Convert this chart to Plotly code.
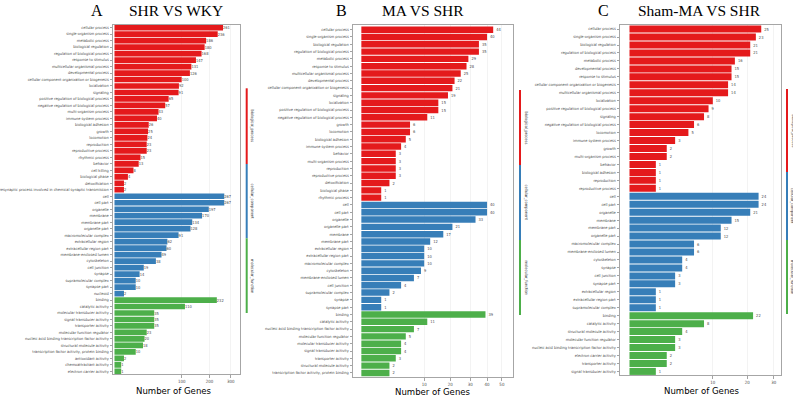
import numpy as np
import plotly.graph_objects as go

W, H = 793, 396

# ---------------- Panel A: SHR VS WKY ----------------
a_bp_terms = ["cellular process", "single-organism process", "metabolic process", "biological regulation",
              "regulation of biological process", "response to stimulus", "multicellular organismal process",
              "developmental process", "cellular component organization or biogenesis", "localization",
              "signaling", "positive regulation of biological process", "negative regulation of biological process",
              "multi-organism process", "immune system process", "biological adhesion", "growth", "locomotion",
              "reproduction", "reproductive process", "rhythmic process", "behavior", "cell killing",
              "biological phase", "detoxification",
              "presynaptic process involved in chemical synaptic transmission"]
a_bp_counts = [261, 236, 186, 180, 168, 147, 131, 126, 100, 92, 91, 65, 57, 43, 40, 26, 25, 24, 23, 23, 15, 13, 8, 4, 2, 2]
a_cc_terms = ["cell", "cell part", "organelle", "membrane", "membrane part", "organelle part",
              "macromolecular complex", "extracellular region", "extracellular region part",
              "membrane-enclosed lumen", "cytoskeleton", "cell junction", "synapse", "supramolecular complex",
              "synapse part", "nucleoid"]
a_cc_counts = [267, 267, 197, 170, 134, 128, 91, 62, 60, 49, 38, 19, 14, 10, 10, 2]
a_mf_terms = ["binding", "catalytic activity", "molecular transducer activity", "signal transducer activity",
              "transporter activity", "molecular function regulator",
              "nucleic acid binding transcription factor activity", "structural molecule activity",
              "transcription factor activity, protein binding", "antioxidant activity",
              "chemoattractant activity", "electron carrier activity"]
a_mf_counts = [232, 110, 35, 35, 35, 23, 20, 18, 10, 2, 1, 1]
a_ticks = [100, 200, 300]

# ---------------- Panel B: MA VS SHR ----------------
b_bp_terms = ["cellular process", "single-organism process", "biological regulation",
              "regulation of biological process", "metabolic process", "response to stimulus",
              "multicellular organismal process", "developmental process",
              "cellular component organization or biogenesis", "signaling", "localization",
              "positive regulation of biological process", "negative regulation of biological process",
              "growth", "locomotion", "biological adhesion", "immune system process", "behavior",
              "multi-organism process", "reproduction", "reproductive process", "detoxification",
              "biological phase", "rhythmic process"]
b_bp_counts = [44, 40, 35, 35, 29, 28, 25, 22, 21, 19, 15, 15, 11, 6, 6, 5, 4, 3, 3, 3, 3, 2, 1, 1]
b_cc_terms = ["cell", "cell part", "organelle", "organelle part", "membrane", "membrane part",
              "extracellular region", "extracellular region part", "macromolecular complex", "cytoskeleton",
              "membrane-enclosed lumen", "cell junction", "supramolecular complex", "synapse", "synapse part"]
b_cc_counts = [40, 40, 33, 21, 17, 12, 10, 10, 10, 9, 7, 4, 2, 1, 1]
b_mf_terms = ["binding", "catalytic activity", "nucleic acid binding transcription factor activity",
              "molecular function regulator", "molecular transducer activity", "signal transducer activity",
              "transporter activity", "structural molecule activity",
              "transcription factor activity, protein binding"]
b_mf_counts = [39, 11, 7, 5, 4, 4, 3, 2, 2]
b_ticks = [10, 20, 30, 40, 50]

# ---------------- Panel C: Sham-MA VS SHR ----------------
c_bp_terms = ["cellular process", "single-organism process", "biological regulation",
              "regulation of biological process", "metabolic process", "developmental process",
              "response to stimulus", "cellular component organization or biogenesis",
              "multicellular organismal process", "localization", "positive regulation of biological process",
              "signaling", "negative regulation of biological process", "locomotion", "immune system process",
              "growth", "multi-organism process", "behavior", "biological adhesion", "reproduction",
              "reproductive process"]
c_bp_counts = [25, 23, 21, 21, 16, 15, 15, 14, 14, 10, 9, 8, 6, 5, 3, 2, 2, 1, 1, 1, 1]
c_cc_terms = ["cell", "cell part", "organelle", "membrane", "membrane part", "organelle part",
              "macromolecular complex", "membrane-enclosed lumen", "cytoskeleton", "synapse", "cell junction",
              "synapse part", "extracellular region", "extracellular region part", "supramolecular complex"]
c_cc_counts = [24, 24, 21, 15, 12, 12, 6, 6, 4, 4, 3, 3, 1, 1, 1]
c_mf_terms = ["binding", "catalytic activity", "structural molecule activity", "molecular function regulator",
              "nucleic acid binding transcription factor activity", "electron carrier activity",
              "transporter activity", "signal transducer activity"]
c_mf_counts = [22, 8, 4, 3, 3, 2, 2, 1]
c_ticks = [10, 20, 30]

ontology_names = ["biological_process", "cellular_component", "molecular_function"]
ontology_colors = ["#E41A1C", "#377EB8", "#4DAF4A"]

panel_letters = ["A", "B", "C"]
panel_titles = ["SHR VS WKY", "MA VS SHR", "Sham-MA VS SHR"]
axis_title = "Number of Genes"

# ---------------- layout geometry (pixels) ----------------
panels = [
    dict(groups=[(a_bp_terms, a_bp_counts), (a_cc_terms, a_cc_counts), (a_mf_terms, a_mf_counts)],
         ticks=a_ticks, x0=113, x1=240, y0=24.7, y1=374.3, xr=(-0.22, 18.68), pad=(0.45, 0.45),
         letter_x=96.7, title_x=176, strip_x=246.7, strip_y=[88.3, 164, 238.3, 313], atitle=(174, 390)),
    dict(groups=[(b_bp_terms, b_bp_counts), (b_cc_terms, b_cc_counts), (b_mf_terms, b_mf_counts)],
         ticks=b_ticks, x0=353, x1=513, y0=25.3, y1=377.3, xr=(-0.42, 7.63), pad=(0.6, 0.6),
         letter_x=341.7, title_x=423, strip_x=520, strip_y=[90, 165, 240, 315], atitle=(433, 391.5)),
    dict(groups=[(c_bp_terms, c_bp_counts), (c_cc_terms, c_cc_counts), (c_mf_terms, c_mf_counts)],
         ticks=c_ticks, x0=620, x1=781, y0=24.7, y1=375, xr=(-0.36, 5.75), pad=(0.55, 0.45),
         letter_x=603, title_x=699, strip_x=787, strip_y=[89, 172, 240, 314], atitle=(702, 390.5)),
]

SMALL_FONT = "Liberation Sans Narrow, Arial Narrow, DejaVu Sans Condensed, Liberation Sans, sans-serif"
GRAY = "#4D4D4D"

fig = go.Figure()
layout = dict(width=W, height=H, margin=dict(l=0, r=0, t=0, b=0, autoexpand=False),
              template="none",
              paper_bgcolor="white", plot_bgcolor="white", showlegend=False,
              bargap=0.12)
annotations = []
shapes = []

def px(x):
    return x / W

def py(y):
    return 1 - y / H

for i, p in enumerate(panels):
    sfx = "" if i == 0 else str(i + 1)
    xa, ya = "x" + sfx, "y" + sfx
    all_terms = []
    for gi, (terms, counts) in enumerate(p["groups"]):
        all_terms += terms
        fig.add_trace(go.Bar(
            x=np.sqrt(np.array(counts, dtype=float)), y=terms, orientation="h",
            marker=dict(color=ontology_colors[gi], line=dict(width=0)),
            text=[str(c) for c in counts], textposition="outside", constraintext="none",
            textfont=dict(family=SMALL_FONT, size=4.0, color=GRAY), cliponaxis=False,
            xaxis=xa, yaxis=ya, hoverinfo="skip"))
    n = len(all_terms)
    layout["xaxis" + sfx] = dict(
        domain=[px(p["x0"]), px(p["x1"])], anchor=ya, range=list(p["xr"]), automargin=False,
        tickvals=list(np.sqrt(p["ticks"])), ticktext=[str(t) for t in p["ticks"]],
        ticks="outside", ticklen=2.5, tickwidth=0.6, tickcolor="#666",
        tickfont=dict(family=SMALL_FONT, size=4.4, color=GRAY),
        showgrid=True, gridcolor="#EBEBEB", gridwidth=0.6, zeroline=False,
        showline=True, mirror=True, linecolor="#A6A6A6", linewidth=1)
    layout["yaxis" + sfx] = dict(
        domain=[py(p["y1"]), py(p["y0"])], anchor=xa, type="category", automargin=False,
        categoryorder="array", categoryarray=all_terms,
        range=[n - 1 + p["pad"][1], -p["pad"][0]],
        ticks="outside", ticklen=2.5, tickwidth=0.6, tickcolor="#666",
        tickfont=dict(family=SMALL_FONT, size=3.9, color=GRAY),
        showgrid=False, zeroline=False,
        showline=True, mirror=True, linecolor="#A6A6A6", linewidth=1)

    # titles
    annotations.append(dict(x=px(p["letter_x"]), y=py(10.5), xref="paper", yref="paper",
                            text=panel_letters[i], showarrow=False, xanchor="center", yanchor="middle",
                            font=dict(family="Liberation Serif, Times New Roman, serif", size=16, color="black")))
    annotations.append(dict(x=px(p["title_x"]), y=py(10.5), xref="paper", yref="paper",
                            text=panel_titles[i], showarrow=False, xanchor="center", yanchor="middle",
                            font=dict(family="Liberation Serif, Times New Roman, serif", size=15.5, color="black")))
    # axis title
    annotations.append(dict(x=px(p["atitle"][0]), y=py(p["atitle"][1]), xref="paper", yref="paper",
                            text=axis_title, showarrow=False, xanchor="center", yanchor="middle",
                            font=dict(family=SMALL_FONT, size=9.5, color="black")))
    # ontology strips
    sy = p["strip_y"]
    for gi in range(3):
        shapes.append(dict(type="line", xref="paper", yref="paper",
                           x0=px(p["strip_x"]), x1=px(p["strip_x"]),
                           y0=py(sy[gi]), y1=py(sy[gi + 1]),
                           line=dict(color=ontology_colors[gi], width=2)))
        annotations.append(dict(x=px(p["strip_x"] + 1.5), y=py((sy[gi] + sy[gi + 1]) / 2),
                                xref="paper", yref="paper", text=ontology_names[gi],
                                showarrow=False, textangle=90, xanchor="left", yanchor="middle",
                                font=dict(family=SMALL_FONT, size=4.0, color="#333")))

layout["annotations"] = annotations
layout["shapes"] = shapes
fig.update_layout(**layout)
fig.write_html("out.html", config={"displayModeBar": False, "staticPlot": True},
               post_script="document.body.style.margin='0';document.body.style.overflow='hidden';")
